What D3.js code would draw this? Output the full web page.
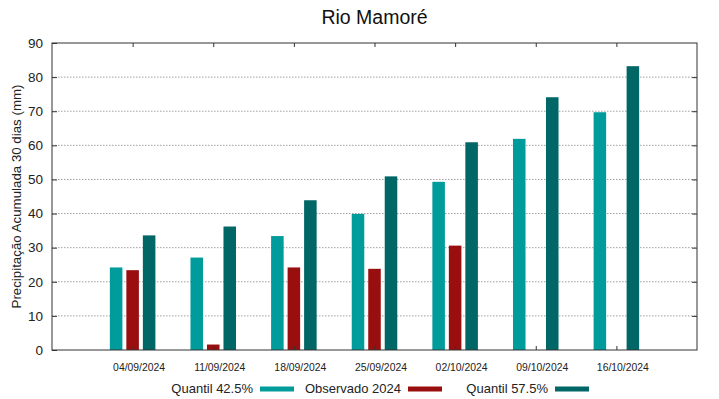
<!DOCTYPE html>
<html>
<head>
<meta charset="utf-8">
<script src="https://d3js.org/d3.v7.min.js"></script>
<style>
  body { margin: 0; background: #fff; }
  text { font-family: "Liberation Sans", Arial, sans-serif; }
</style>
</head>
<body>
<div id="chart"></div>
<script>
// Data
const dates = ['04/09/2024', '11/09/2024', '18/09/2024', '25/09/2024', '02/10/2024', '09/10/2024', '16/10/2024'];
const q425 = [24.2, 27.1, 33.4, 39.9, 49.3, 61.9, 69.7];
const obs2024 = [23.4, 1.6, 24.2, 23.8, 30.6, null, null];
const q575 = [33.6, 36.2, 43.9, 50.9, 60.9, 74.1, 83.2];
const seriesNames = ['Quantil 42.5%', 'Observado 2024', 'Quantil 57.5%'];
const seriesColors = ['#009b9b', '#990f0f', '#006666'];
const yTicks = [0, 10, 20, 30, 40, 50, 60, 70, 80, 90];

const width = 719, height = 399;
const margin = { top: 43, right: 22, bottom: 49, left: 52 };

const svg = d3.select('#chart')
    .append('svg')
    .attr('width', width)
    .attr('height', height);

// scales
const x = d3.scaleLinear()
    .domain([0, dates.length + 1])
    .range([margin.left, width - margin.right]);

const y = d3.scaleLinear()
    .domain([0, 90])
    .range([height - margin.bottom, margin.top]);

const xs = d3.scaleBand()
    .domain(seriesNames)
    .range([-24.75, 24.75])
    .paddingInner(0.24)
    .paddingOuter(0.12);

// grid lines
svg.append('g')
    .selectAll('line')
    .data(yTicks.slice(1, -1))
    .enter()
    .append('line')
    .attr('x1', margin.left)
    .attr('x2', width - margin.right)
    .attr('y1', d => y(d))
    .attr('y2', d => y(d))
    .attr('stroke', '#a0a0a0')
    .attr('stroke-width', 1)
    .attr('stroke-dasharray', '1.5,1.5');

// bars
const allSeries = [q425, obs2024, q575];
allSeries.forEach((vals, si) => {
    svg.append('g')
        .selectAll('rect')
        .data(vals.map((v, i) => ({ i: i, v: v })).filter(d => d.v !== null))
        .enter()
        .append('rect')
        .attr('x', d => x(d.i + 1) + xs(seriesNames[si]))
        .attr('width', xs.bandwidth())
        .attr('y', d => y(d.v))
        .attr('height', d => y(0) - y(d.v))
        .attr('fill', seriesColors[si]);
});

// axes
const axisColor = '#333';
const yAxisL = d3.axisLeft(y).tickValues(yTicks).tickSize(-5).tickPadding(9);
const gl = svg.append('g')
    .attr('transform', `translate(${margin.left},0)`)
    .call(yAxisL);
gl.select('.domain').remove();
gl.selectAll('text').attr('font-size', '13.5px').attr('fill', '#222');
gl.selectAll('line').attr('stroke', axisColor);

const yAxisR = d3.axisRight(y).tickValues(yTicks.slice(1, -1)).tickSize(-5).tickFormat('');
const gr = svg.append('g')
    .attr('transform', `translate(${width - margin.right},0)`)
    .call(yAxisR);
gr.select('.domain').remove();
gr.selectAll('line').attr('stroke', axisColor);

const xTickVals = dates.map((d, i) => i + 1);
const xAxisB = d3.axisBottom(x).tickValues(xTickVals).tickSize(-4).tickFormat('');
const gb = svg.append('g')
    .attr('transform', `translate(0,${height - margin.bottom})`)
    .call(xAxisB);
gb.select('.domain').remove();
gb.selectAll('line').attr('stroke', axisColor);

const xAxisT = d3.axisTop(x).tickValues(xTickVals).tickSize(-4).tickFormat('');
const gt = svg.append('g')
    .attr('transform', `translate(0,${margin.top})`)
    .call(xAxisT);
gt.select('.domain').remove();
gt.selectAll('line').attr('stroke', axisColor);

// x labels (slightly offset to the right as in the original)
svg.append('g')
    .selectAll('text')
    .data(dates)
    .enter()
    .append('text')
    .attr('x', (d, i) => x(i + 1) + 6.5)
    .attr('y', height - margin.bottom + 21)
    .attr('text-anchor', 'middle')
    .attr('font-size', '10.4px')
    .attr('fill', '#222')
    .text(d => d);

// border
svg.append('rect')
    .attr('x', margin.left)
    .attr('y', margin.top)
    .attr('width', width - margin.left - margin.right)
    .attr('height', height - margin.top - margin.bottom)
    .attr('fill', 'none')
    .attr('stroke', axisColor)
    .attr('stroke-width', 1);

// title
svg.append('text')
    .attr('x', (margin.left + width - margin.right) / 2)
    .attr('y', 24)
    .attr('text-anchor', 'middle')
    .attr('font-size', '19.5px')
    .attr('fill', '#111')
    .text('Rio Mamoré');

// y title
svg.append('text')
    .attr('transform', `translate(21,${(margin.top + height - margin.bottom) / 2}) rotate(-90)`)
    .attr('text-anchor', 'middle')
    .attr('font-size', '13.3px')
    .attr('fill', '#222')
    .text('Precipitação Acumulada 30 dias (mm)');

// legend
const legendX = [253, 401, 548];
const legend = svg.append('g');
seriesNames.forEach((name, i) => {
    legend.append('text')
        .attr('x', legendX[i])
        .attr('y', 393)
        .attr('text-anchor', 'end')
        .attr('font-size', '13px')
        .attr('fill', '#222')
        .text(name);
    legend.append('rect')
        .attr('x', legendX[i] + 7)
        .attr('y', 386.5)
        .attr('width', 34)
        .attr('height', 5)
        .attr('fill', seriesColors[i]);
});
</script>
</body>
</html>
